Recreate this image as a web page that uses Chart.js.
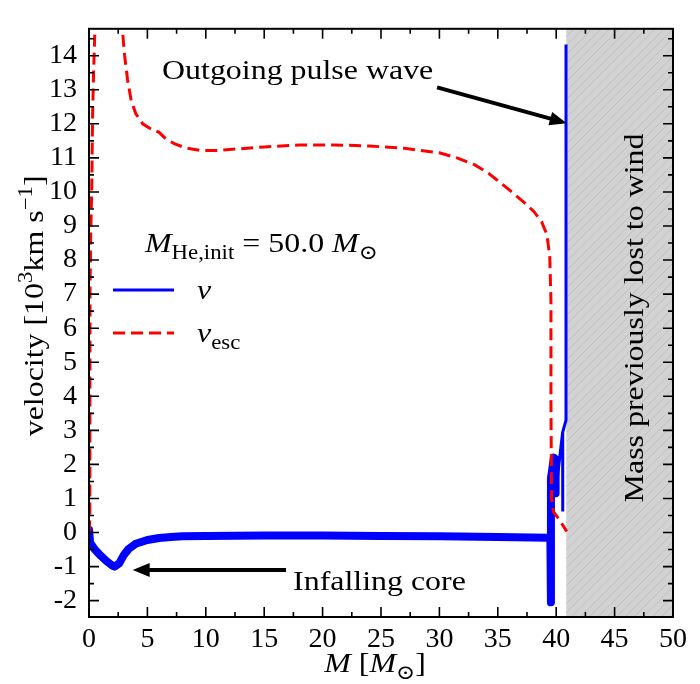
<!DOCTYPE html>
<html>
<head>
<meta charset="utf-8">
<script src="https://cdn.jsdelivr.net/npm/chart.js@4.4.1/dist/chart.umd.min.js"></script>
<style>
  html, body { margin: 0; padding: 0; background: #fff; }
</style>
</head>
<body>
<canvas id="c" width="700" height="684"></canvas>
<script>
// Velocity profile vs enclosed mass, 50 Msun He star

// ── Data ──────────────────────────────────────────────────────
const X_MIN = 0, X_MAX = 50, X_STEP = 5;
const Y_MIN = -2.48, Y_MAX = 14.79, Y_STEP = 1;

// fluid velocity v (thick part, inner star)
const vX = [0, 0.1, 0.5, 1.0, 1.5, 2.0, 2.2, 2.6, 3.0, 3.4, 4.0, 5.0, 6.0, 7.0, 8.0, 10, 15, 20, 25, 30, 35, 39.3, 39.5, 39.55, 39.55, 39.62, 39.8, 39.9, 39.95];
const vY = [0.08, -0.3, -0.5, -0.68, -0.84, -0.97, -1.0, -0.9, -0.65, -0.48, -0.33, -0.22, -0.16, -0.13, -0.11, -0.1, -0.09, -0.09, -0.1, -0.11, -0.13, -0.15, -0.15, -2.05, 1.6, 1.75, 2.2, 2.15, 1.15];

// outgoing pulse near the surface (thin part)
const pulseX = [39.95, 40.55, 40.55, 40.57, 40.84, 40.84];
const pulseY = [1.15, 2.95, 0.62, 2.95, 3.3, 14.33];

// escape velocity v_esc
const escX = [0.02, 0.07, 0.09, 0.15, 0.23, 0.31, 0.4, 0.51, 0.7, 1.5, 2.6, 2.85, 3.05, 3.3, 3.6, 4.0, 4.6, 5.3, 6.0, 6.6, 7.3, 8.2, 9.5, 11, 13, 15, 18, 21, 24, 27, 30, 31.5, 33, 34.2, 35.3, 36.3, 37.3, 38.1, 38.76, 39.2, 39.45, 39.55, 39.55, 39.6, 39.75, 40.3, 40.9];
const escY = [0.0, 0.5, 7.2, 8.8, 10.0, 12.3, 13.6, 14.8, 17, 25, 17, 14.8, 14.0, 13.3, 12.7, 12.3, 12.0, 11.85, 11.75, 11.55, 11.42, 11.3, 11.22, 11.22, 11.27, 11.32, 11.38, 11.38, 11.35, 11.28, 11.15, 11.0, 10.8, 10.55, 10.25, 9.97, 9.68, 9.42, 9.12, 8.75, 8.1, 6.8, 3.9, 1.0, 0.62, 0.36, 0.03];

// mass already lost to the wind
const windX = [40.85, 50];
const windY = [Y_MAX, Y_MAX];

// annotations (data units)
const pulseArrow = { from: [29.8, 13.07], to: [40.9, 12.02] };
const coreArrow  = { from: [16.87, -1.10], to: [3.74, -1.10] };
const pulseText  = { text: "Outgoing pulse wave", at: [6.25, 13.33] };
const coreText   = { text: "Infalling core", at: [17.47, -1.68] };
const windText   = { text: "Mass previously lost to wind", at: [47.45, 6.3] };

// ── Helpers ───────────────────────────────────────────────────
const SERIF = "'Liberation Serif', 'DejaVu Serif', serif";
const FS = 28;          // base font size
const STRETCH = 1.14;   // widen to mimic Palatino

Chart.defaults.font.family = SERIF;
Chart.defaults.font.size = FS;
Chart.defaults.color = "#000";

const pts = (xs, ys) => xs.map((x, i) => ({ x, y: ys[i] }));
const font = (size, it) => (it ? "italic " : "") + size + "px " + SERIF;

function hatch() {
  const c = document.createElement("canvas");
  c.width = 9; c.height = 9;
  const g = c.getContext("2d");
  g.fillStyle = "#d2d2d2";
  g.fillRect(0, 0, 9, 9);
  g.strokeStyle = "#c0c0c0";
  g.lineWidth = 1;
  g.beginPath();
  g.moveTo(-1, 10); g.lineTo(10, -1);
  g.stroke();
  return g.createPattern(c, "repeat");
}

// parts: {t, it, sub, sup}
function partFont(p) {
  return font(p.sub || p.sup ? Math.round(FS * 0.7) : FS, p.it);
}
function richWidth(ctx, parts) {
  let w = 0;
  for (const p of parts) { ctx.font = partFont(p); w += ctx.measureText(p.t).width; }
  return w;
}
function drawRich(ctx, parts, x, y, align, rot) {
  ctx.save();
  ctx.translate(x, y);
  if (rot) ctx.rotate(rot);
  ctx.scale(STRETCH, 1);
  ctx.fillStyle = "#000";
  ctx.textBaseline = "alphabetic";
  ctx.textAlign = "left";
  let cx = align === "center" ? -richWidth(ctx, parts) / 2 : 0;
  for (const p of parts) {
    ctx.font = partFont(p);
    const dy = p.sub ? FS * 0.24 : p.sup ? -FS * 0.38 : 0;
    ctx.fillText(p.t, cx, dy);
    cx += ctx.measureText(p.t).width;
  }
  ctx.restore();
}

function arrow(ctx, x0, y0, x1, y1) {
  const ang = Math.atan2(y1 - y0, x1 - x0);
  const hl = 17, hw = 7;
  const bx = x1 - hl * Math.cos(ang), by = y1 - hl * Math.sin(ang);
  ctx.lineWidth = 4;
  ctx.beginPath(); ctx.moveTo(x0, y0); ctx.lineTo(bx + 2 * Math.cos(ang), by + 2 * Math.sin(ang)); ctx.stroke();
  ctx.beginPath();
  ctx.moveTo(x1, y1);
  ctx.lineTo(bx + hw * Math.sin(ang), by - hw * Math.cos(ang));
  ctx.lineTo(bx - hw * Math.sin(ang), by + hw * Math.cos(ang));
  ctx.closePath(); ctx.fill();
}

function minors(vals, min, max) {
  const step = vals[1] - vals[0], out = [];
  for (let v = vals[0] - step / 2; v <= max; v += step) if (v >= min) out.push(v);
  return out;
}

// ── Overlay: frame, inward ticks, labels, legend ──────────────
const overlay = {
  id: "overlay",
  afterDatasetsDraw(chart) {
    const { ctx, chartArea: a, scales: { x, y } } = chart;
    const ds = chart.data.datasets;
    ctx.save();
    ctx.strokeStyle = "#000";
    ctx.fillStyle = "#000";

    ctx.lineWidth = 2;
    ctx.strokeRect(a.left, a.top, a.right - a.left, a.bottom - a.top);

    ctx.lineWidth = 1.6;
    const xMaj = x.ticks.map(t => t.value), yMaj = y.ticks.map(t => t.value);
    const tickX = (v, len) => {
      const p = x.getPixelForValue(v);
      ctx.beginPath();
      ctx.moveTo(p, a.bottom); ctx.lineTo(p, a.bottom - len);
      ctx.moveTo(p, a.top); ctx.lineTo(p, a.top + len);
      ctx.stroke();
    };
    const tickY = (v, len) => {
      const p = y.getPixelForValue(v);
      ctx.beginPath();
      ctx.moveTo(a.left, p); ctx.lineTo(a.left + len, p);
      ctx.moveTo(a.right, p); ctx.lineTo(a.right - len, p);
      ctx.stroke();
    };
    xMaj.forEach(v => tickX(v, 10));
    minors(xMaj, X_MIN, X_MAX).forEach(v => tickX(v, 5));
    yMaj.forEach(v => tickY(v, 10));
    minors(yMaj, Y_MIN, Y_MAX).forEach(v => tickY(v, 5));

    // axis titles
    drawRich(ctx, [{ t: "M", it: 1 }, { t: " [" }, { t: "M", it: 1 }, { t: "\u2299", sub: 1 }, { t: "]" }],
      (a.left + a.right) / 2 - 6, 672, "center");
    drawRich(ctx, [{ t: "velocity [10" }, { t: "3", sup: 1 }, { t: "km s" }, { t: "\u22121", sup: 1 }, { t: "]" }],
      43, (a.top + a.bottom) / 2 - 17, "center", -Math.PI / 2);

    // arrows + annotation text
    const P = d => [x.getPixelForValue(d[0]), y.getPixelForValue(d[1])];
    for (const ar of [pulseArrow, coreArrow]) {
      const f = P(ar.from), t = P(ar.to);
      arrow(ctx, f[0], f[1], t[0], t[1]);
    }
    for (const tx of [pulseText, coreText]) {
      const p = P(tx.at);
      drawRich(ctx, [{ t: tx.text }], p[0], p[1], "left");
    }
    const wp = P(windText.at);
    drawRich(ctx, [{ t: windText.text }], wp[0], wp[1], "center", -Math.PI / 2);

    // legend
    const lx = a.left + 24;
    drawRich(ctx, [{ t: "M", it: 1 }, { t: "He,init", sub: 1 }, { t: " = 50.0 " }, { t: "M", it: 1 }, { t: "\u2299", sub: 1 }],
      a.left + 56, 252, "left");
    ctx.lineWidth = 3;
    ctx.strokeStyle = ds[1].borderColor;
    ctx.beginPath(); ctx.moveTo(lx, 290); ctx.lineTo(lx + 61, 290); ctx.stroke();
    drawRich(ctx, [{ t: "v", it: 1 }], a.left + 108, 299, "left");
    ctx.strokeStyle = ds[2].borderColor;
    ctx.setLineDash(ds[2].borderDash);
    ctx.beginPath(); ctx.moveTo(lx, 333); ctx.lineTo(lx + 61, 333); ctx.stroke();
    ctx.setLineDash([]);
    drawRich(ctx, [{ t: "v", it: 1 }, { t: "esc", sub: 1 }], a.left + 108, 342, "left");

    ctx.restore();
  }
};

// ── Chart ─────────────────────────────────────────────────────
const tickFont = { family: SERIF, size: FS, style: "normal" };

new Chart(document.getElementById("c"), {
  type: "line",
  data: {
    datasets: [
      {
        label: "v",
        data: pts(vX, vY),
        borderColor: "#0000ff",
        borderWidth: 8,
        borderCapStyle: "round",
        borderJoinStyle: "round",
        pointRadius: 0,
        fill: false,
        clip: 0,
        order: 1,
      },
      {
        label: "v pulse",
        data: pts(pulseX, pulseY),
        borderColor: "#0000ff",
        borderWidth: 3,
        pointRadius: 0,
        fill: false,
        clip: 0,
        order: 1,
      },
      {
        label: "v_esc",
        data: pts(escX, escY),
        borderColor: "#ff0000",
        borderWidth: 3,
        borderDash: [12, 6],
        pointRadius: 0,
        fill: false,
        clip: 0,
        order: 0,
      },
      {
        label: "wind",
        data: pts(windX, windY),
        borderWidth: 0,
        borderColor: "rgba(0,0,0,0)",
        backgroundColor: hatch(),
        pointRadius: 0,
        fill: "start",
        clip: 0,
        order: 5,
      },
    ],
  },
  options: {
    responsive: false,
    animation: false,
    layout: { padding: { top: 14, right: 27, left: 0, bottom: 0 } },
    plugins: { legend: { display: false }, tooltip: { enabled: false } },
    scales: {
      x: {
        type: "linear",
        min: X_MIN, max: X_MAX,
        ticks: { stepSize: X_STEP, font: tickFont, color: "#000", padding: 6, maxRotation: 0, autoSkip: false },
        grid: { display: false, drawTicks: false },
        border: { display: false },
        afterFit: s => { s.height = 67; },
      },
      y: {
        type: "linear",
        min: Y_MIN, max: Y_MAX,
        ticks: { stepSize: Y_STEP, includeBounds: false, font: tickFont, color: "#000", padding: 12, autoSkip: false },
        grid: { display: false, drawTicks: false },
        border: { display: false },
        afterFit: s => { s.width = 89; },
      },
    },
  },
  plugins: [overlay],
});
</script>
</body>
</html>
